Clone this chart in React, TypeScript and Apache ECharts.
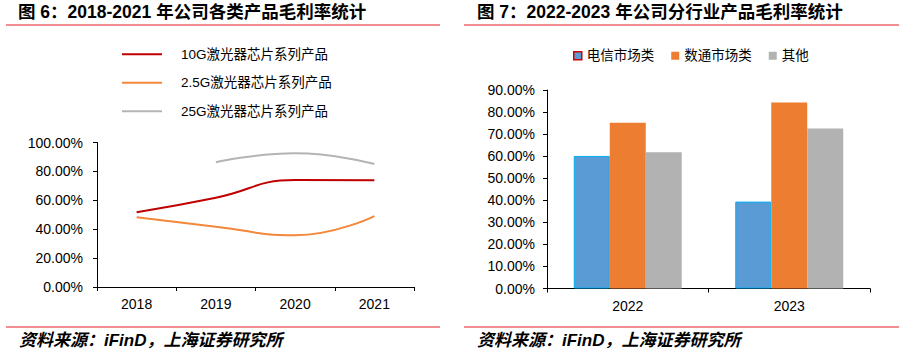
import React, { useEffect, useRef } from "react";
import * as echarts from "echarts";

const leftYears = ["2018", "2019", "2020", "2021"];
const g10Values = [51.7, 61.8, 74.0, 73.8];
const g25Values = [48.2, 41.7, 35.8, 49.1];
const g25GValues: (number | null)[] = [null, 86.3, 92.5, 85.1];
const leftSeriesNames = ["10G激光器芯片系列产品", "2.5G激光器芯片系列产品", "25G激光器芯片系列产品"];

const rightYears = ["2022", "2023"];
const telecomValues = [60.1, 39.4];
const datacomValues = [75.2, 84.3];
const otherValues = [61.8, 72.6];
const rightSeriesNames = ["电信市场类", "数通市场类", "其他"];

const titleLeft = "图 6：2018-2021 年公司各类产品毛利率统计";
const titleRight = "图 7：2022-2023 年公司分行业产品毛利率统计";
const sourceText = "资料来源：iFinD，上海证券研究所";

const FONT = "'Liberation Sans', 'Noto Sans CJK SC', sans-serif";

export default function App() {
  const ref = useRef<HTMLDivElement>(null);
  useEffect(() => {
    if (!ref.current) return;
    const chart = echarts.init(ref.current, undefined, { renderer: "svg" });
    const pct = (v: number) => `${v.toFixed(2)}%`;
    const axisCommon = {
      axisLine: { show: true, lineStyle: { color: "#000", width: 1 } },
      axisTick: { show: true, length: 4, lineStyle: { color: "#000" } },
      splitLine: { show: false },
    };
    chart.setOption({
      animation: false,
      textStyle: { fontFamily: FONT },
      grid: [
        { left: 97, right: 490, top: 142.5, bottom: 68 },
        { left: 547, right: 34, top: 90, bottom: 66.5 },
      ],
      xAxis: [
        {
          type: "category",
          gridIndex: 0,
          data: leftYears,
          boundaryGap: true,
          ...axisCommon,
          axisLabel: { color: "#000", fontSize: 14, margin: 10, fontFamily: FONT },
        },
        {
          type: "category",
          gridIndex: 1,
          data: rightYears,
          boundaryGap: true,
          ...axisCommon,
          axisLabel: { color: "#000", fontSize: 14, margin: 10, fontFamily: FONT },
        },
      ],
      yAxis: [
        {
          type: "value",
          gridIndex: 0,
          min: 0,
          max: 100,
          interval: 20,
          ...axisCommon,
          axisLabel: { color: "#000", fontSize: 14, margin: 14, formatter: pct, fontFamily: FONT },
        },
        {
          type: "value",
          gridIndex: 1,
          min: 0,
          max: 90,
          interval: 10,
          ...axisCommon,
          axisLabel: { color: "#000", fontSize: 14, margin: 12, formatter: pct, fontFamily: FONT },
        },
      ],
      legend: [
        {
          orient: "vertical",
          left: 122,
          top: 47.5,
          padding: 0,
          itemWidth: 40,
          itemHeight: 2,
          itemGap: 15,
          icon: "rect",
          data: leftSeriesNames,
          textStyle: { fontSize: 13.5, color: "#000", padding: [0, 0, 0, 14], fontFamily: FONT },
        },
        {
          orient: "horizontal",
          left: 573,
          top: 49,
          padding: 0,
          itemWidth: 8,
          itemHeight: 8,
          itemGap: 17,
          icon: "rect",
          data: [
            { name: rightSeriesNames[0], itemStyle: { borderColor: "#d00000", borderWidth: 1.5 } },
            { name: rightSeriesNames[1] },
            { name: rightSeriesNames[2] },
          ],
          textStyle: { fontSize: 13.5, color: "#000", fontFamily: FONT },
        },
      ],
      series: [
        {
          name: leftSeriesNames[0],
          type: "line",
          xAxisIndex: 0,
          yAxisIndex: 0,
          data: g10Values,
          smooth: 0.5,
          showSymbol: false,
          symbol: "none",
          lineStyle: { color: "#C00000", width: 2 },
          itemStyle: { color: "#C00000" },
        },
        {
          name: leftSeriesNames[1],
          type: "line",
          xAxisIndex: 0,
          yAxisIndex: 0,
          data: g25Values,
          smooth: 0.5,
          showSymbol: false,
          symbol: "none",
          lineStyle: { color: "#F4873A", width: 2 },
          itemStyle: { color: "#F4873A" },
        },
        {
          name: leftSeriesNames[2],
          type: "line",
          xAxisIndex: 0,
          yAxisIndex: 0,
          data: g25GValues,
          smooth: 0.5,
          showSymbol: false,
          symbol: "none",
          lineStyle: { color: "#B4B4B4", width: 2 },
          itemStyle: { color: "#B4B4B4" },
        },
        {
          name: rightSeriesNames[0],
          type: "bar",
          xAxisIndex: 1,
          yAxisIndex: 1,
          data: telecomValues,
          barWidth: 36,
          barGap: "0%",
          itemStyle: { color: "#5B9BD5", borderColor: "#00B0F0", borderWidth: 1 },
        },
        {
          name: rightSeriesNames[1],
          type: "bar",
          xAxisIndex: 1,
          yAxisIndex: 1,
          data: datacomValues,
          barWidth: 36,
          barGap: "0%",
          itemStyle: { color: "#ED7D31" },
        },
        {
          name: rightSeriesNames[2],
          type: "bar",
          xAxisIndex: 1,
          yAxisIndex: 1,
          data: otherValues,
          barWidth: 36,
          barGap: "0%",
          itemStyle: { color: "#B2B2B2" },
        },
      ],
      graphic: [
        {
          type: "text",
          left: 18,
          top: 3,
          style: { text: titleLeft, fontSize: 17.5, fontWeight: "bold", fill: "#000", fontFamily: FONT },
        },
        {
          type: "text",
          left: 477,
          top: 3,
          style: { text: titleRight, fontSize: 17.5, fontWeight: "bold", fill: "#000", fontFamily: FONT },
        },
        { type: "line", shape: { x1: 6, y1: 25, x2: 440, y2: 25 }, style: { stroke: "#E31E24", lineWidth: 1 } },
        { type: "line", shape: { x1: 464, y1: 25, x2: 899, y2: 25 }, style: { stroke: "#E31E24", lineWidth: 1 } },
        { type: "line", shape: { x1: 6, y1: 327, x2: 440, y2: 327 }, style: { stroke: "#E31E24", lineWidth: 1 } },
        { type: "line", shape: { x1: 464, y1: 327, x2: 899, y2: 327 }, style: { stroke: "#E31E24", lineWidth: 1 } },
        {
          type: "text",
          left: 19,
          top: 332,
          style: { text: sourceText, fontSize: 17, fontWeight: "bold", fontStyle: "italic", fill: "#000", fontFamily: FONT },
        },
        {
          type: "text",
          left: 477,
          top: 332,
          style: { text: sourceText, fontSize: 17, fontWeight: "bold", fontStyle: "italic", fill: "#000", fontFamily: FONT },
        },
      ],
    });
    return () => chart.dispose();
  }, []);
  return (
    <div
      ref={ref}
      style={{ position: "absolute", left: 0, top: 0, width: 904, height: 355, background: "#fff" }}
    />
  );
}
